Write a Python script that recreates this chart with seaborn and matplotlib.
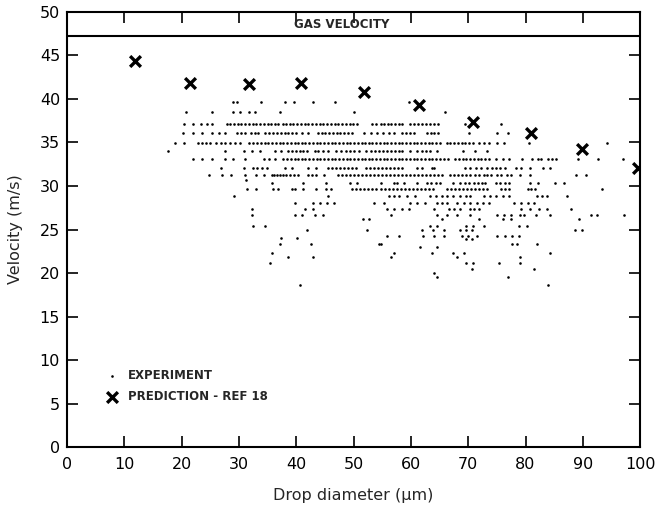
import numpy as np
import pandas as pd
import seaborn as sns
import matplotlib
matplotlib.use("Agg")
import matplotlib.pyplot as plt

# Experiment: measured drop velocities, grouped by the velocity level they sit on
exp_levels = [39.7, 38.5, 37.1, 36.1, 34.9, 34.0, 33.1, 32.1, 31.3, 30.7, 30.3, 29.6,
              28.8, 28.1, 27.4, 26.7, 26.2, 25.4, 24.9, 24.3, 24.0, 23.9, 23.3, 23.0,
              22.3, 21.8, 21.1, 20.5, 20.0, 19.5, 18.6]
exp_diameters = [
    "28.9 29.7 33.9 38.1 39.6 42.9 46.7 59.6",
    "20.7 25.3 28.9 30.1 31.7 32.8 37.2 50.0 66.0",
    "20.4 21.9 23.3 24.5 25.3 27.9 28.5 29.1 29.8 30.4 31.1 31.7 32.4 33.0 33.7 34.3 35.0 35.6 "
    "36.3 36.9 37.6 38.2 38.9 39.5 40.2 40.8 41.5 42.1 42.8 43.4 44.1 44.7 45.4 46.0 46.7 47.3 "
    "48.0 48.6 49.3 49.9 50.6 53.3 54.0 54.7 55.3 56.0 56.6 57.3 57.9 58.5 59.9 60.6 61.3 62.0 "
    "62.7 63.4 64.1 64.8 69.4 75.7",
    "20.3 21.9 23.6 25.3 26.5 27.6 29.7 30.4 31.1 32.1 32.8 33.4 34.6 35.3 36.0 36.7 37.4 38.0 "
    "38.6 39.2 40.0 41.0 42.0 43.8 44.5 45.1 45.8 46.4 47.1 47.7 48.4 49.0 49.7 51.9 53.0 54.1 "
    "55.1 56.2 57.0 58.5 59.2 59.9 60.5 62.8 63.5 64.1 64.8 70.1 75.0 76.9",
    "18.9 20.4 22.9 23.6 24.3 25.0 26.0 26.8 27.6 28.4 29.3 30.2 31.7 32.4 33.1 33.9 34.6 35.1 "
    "35.8 36.4 37.1 37.7 38.4 39.0 39.7 40.3 41.0 41.6 42.3 42.9 43.6 44.2 44.9 45.5 46.2 46.8 "
    "47.5 48.1 48.8 49.4 50.1 50.7 51.4 52.0 52.7 53.3 54.0 54.6 55.3 55.9 56.6 57.2 57.9 58.5 "
    "59.2 59.8 60.5 61.1 61.8 62.4 63.1 63.7 64.4 65.0 66.3 66.9 67.6 68.2 68.9 69.5 70.2 70.8 "
    "71.8 72.7 73.7 75.1 76.2 80.6 94.2",
    "17.7 27.6 30.8 32.3 33.7 36.3 37.4 38.6 39.3 40.0 40.6 41.2 41.9 43.2 43.8 44.6 45.5 47.0 "
    "47.8 48.6 49.4 50.1 51.0 52.1 53.0 53.7 54.4 55.1 55.8 56.5 57.2 57.9 58.5 59.9 61.0 61.9 "
    "62.6 63.4 64.5 69.1 71.2 73.2",
    "21.9 23.6 25.3 27.6 28.9 31.1 34.3 35.3 36.3 37.7 38.4 39.0 39.7 40.3 41.0 41.6 42.3 42.9 "
    "43.6 44.2 44.9 45.5 46.2 46.8 47.5 48.1 48.8 49.4 50.1 50.7 51.4 52.0 52.7 53.3 54.0 54.6 "
    "55.3 55.9 56.6 57.2 57.9 58.5 59.2 59.8 60.5 61.1 61.8 62.4 63.1 63.7 64.4 65.0 65.7 66.4 "
    "67.7 68.4 69.1 69.7 70.4 71.0 71.7 72.3 73.0 73.7 74.9 76.0 77.1 79.4 81.2 82.1 82.7 83.9 "
    "84.6 85.3 89.2 92.7 97.0",
    "26.8 30.8 32.4 33.2 34.1 34.9 38.0 39.2 42.0 43.5 45.5 46.2 46.9 47.6 48.3 49.0 49.7 50.4 "
    "52.1 52.8 53.5 54.2 54.9 55.6 56.3 57.0 57.7 58.4 61.1 61.9 63.7 64.0 69.5 70.4 71.4 72.3 "
    "73.2 74.1 74.9 75.6 76.5 78.4 79.2 80.8 83.0 84.2",
    "24.8 27.1 28.7 31.1 33.0 34.3 35.7 36.2 36.7 37.2 37.7 38.2 38.9 39.6 40.3 42.0 42.8 43.5 "
    "44.9 47.2 47.9 48.6 49.3 50.0 50.7 51.4 52.1 52.8 53.5 54.2 54.9 55.6 56.3 57.0 57.7 58.4 "
    "59.1 59.8 60.5 61.2 61.9 62.6 63.3 64.0 64.7 65.4 66.8 67.5 68.2 68.9 69.6 70.3 71.2 71.8 "
    "72.7 73.2 74.0 75.1 75.7 76.8 77.5 79.1 80.8 88.8 90.6",
    "31.3",
    "35.8 41.2 45.2 49.3 50.6 54.7 57.0 57.6 58.8 61.0 62.8 63.5 64.3 65.1 67.4 68.6 69.4 70.2 "
    "71.0 71.7 72.4 72.9 74.9 75.6 76.4 77.1 80.8 82.1 85.2 86.8",
    "31.4 33.0 36.0 36.9 39.2 39.8 41.2 43.5 45.2 46.1 49.8 50.5 51.2 51.9 52.6 53.3 54.0 54.7 "
    "55.4 56.1 56.8 57.5 58.2 58.9 59.6 60.3 61.0 61.7 62.4 63.1 63.8 66.3 67.0 67.7 68.4 69.1 "
    "69.8 70.5 71.2 71.9 72.6 73.3 75.7 76.4 77.1 80.4 81.0 81.7 93.3",
    "29.2 45.6 56.2 57.0 57.9 59.3 60.8 63.4 64.4 65.4 66.3 67.4 68.5 69.7 70.4 72.7 73.8 74.9 "
    "76.0 77.1 82.0 82.9 83.8 87.3",
    "39.8 42.9 44.1 45.4 46.6 53.6 55.3 59.9 61.1 62.5 64.5 65.4 66.3 68.0 69.2 70.3 71.5 72.6 "
    "73.6 78.0 79.2 80.4 81.5",
    "32.3 41.6 42.9 55.9 57.1 58.4 59.6 64.0 66.6 67.6 68.6 70.3 71.0 71.9 79.3 80.8 82.3 83.8 87.9",
    "32.3 39.8 41.0 43.2 44.6 56.5 64.5 66.3 68.0 70.3 75.1 76.2 77.4 79.1 79.7 81.8 84.2 91.5 "
    "92.5 97.2",
    "51.6 52.7 65.4 71.9 76.0 77.4 89.3",
    "32.4 34.6 63.4 64.5 69.7 70.9 72.7 78.8 80.3",
    "41.9 52.4 61.9 63.8 65.7 68.6 69.6 70.6 88.7 89.9",
    "55.9 57.9 62.2 64.0 65.7 68.9 70.0 71.6 75.1 76.4 77.6 78.8",
    "37.4 40.1",
    "69.6 70.7",
    "37.1 42.5 54.4 54.8 77.7 78.6 82.0",
    "61.6 64.5",
    "35.7 57.0 63.7 67.4 69.2 84.2",
    "38.5 42.9 56.5 68.0 79.0",
    "35.5 69.7 70.9 75.4 79.1",
    "70.7 81.5",
    "64.0",
    "64.6 77.0",
    "40.7 84.0",
]

# Prediction (REF 18)
pred_diameter = [11.9, 21.5, 31.7, 40.9, 51.8, 61.5, 70.8, 81.0, 89.9, 99.6]
pred_velocity = [44.4, 41.8, 41.7, 41.8, 40.8, 39.3, 37.4, 36.1, 34.3, 32.1]

gas_velocity = 47.2

rows = []
for level, diams in zip(exp_levels, exp_diameters):
    for d in diams.split():
        rows.append((float(d), level))
exp_df = pd.DataFrame(rows, columns=["diameter", "velocity"])
pred_df = pd.DataFrame({"diameter": pred_diameter, "velocity": pred_velocity})

sns.set_theme(style="ticks")
plt.rcParams["font.family"] = ["DejaVu Sans"]

fig = plt.figure(figsize=(6.55, 5.19), dpi=100)
ax = fig.add_axes([0.1023, 0.1387, 0.875, 0.8382])

sns.scatterplot(data=exp_df, x="diameter", y="velocity", s=3.5, color="black",
                linewidth=0, marker="o", ax=ax, label="EXPERIMENT")
sns.scatterplot(data=pred_df, x="diameter", y="velocity", s=60, color="black",
                marker="x", linewidth=2.4, ax=ax, label="PREDICTION - REF 18")

ax.axhline(gas_velocity, color="black", lw=1.5)
ax.text(48, (gas_velocity + 50) / 2, "GAS VELOCITY", ha="center", va="center",
        fontsize=8.5, fontweight="bold")

ax.set_xlim(0, 100)
ax.set_ylim(0, 50)
ax.set_xticks(np.arange(0, 101, 10))
ax.set_yticks(np.arange(0, 51, 5))
ax.tick_params(direction="in", top=True, right=True, length=8, width=1.2,
               labelsize=11.5, colors="black", pad=5)
ax.tick_params(axis="x", pad=7)
for sp in ax.spines.values():
    sp.set_linewidth(1.5)
    sp.set_color("black")

ax.set_xlabel("Drop diameter (µm)", fontsize=11.5, labelpad=12)
ax.set_ylabel("Velocity (m/s)", fontsize=11.5, labelpad=12)

ax.legend(loc="lower left", bbox_to_anchor=(0.05, 0.09), frameon=False,
          prop={"weight": "bold", "size": 8.5}, handletextpad=0.3,
          labelspacing=0.7, borderaxespad=0)

fig.savefig("out.png", dpi=100)
